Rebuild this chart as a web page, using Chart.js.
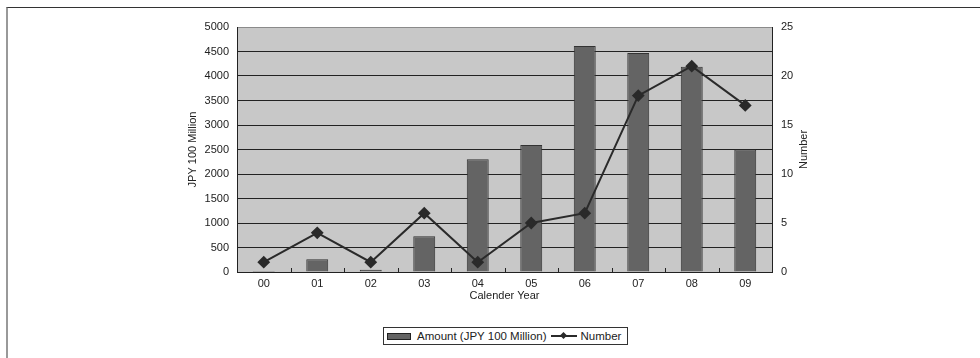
<!DOCTYPE html>
<html>
<head>
<meta charset="utf-8">
<script src="https://cdn.jsdelivr.net/npm/chart.js@4/dist/chart.umd.min.js"></script>
<style>
  html, body { margin: 0; padding: 0; background: #fff; }
  #wrap { position: relative; width: 980px; height: 358px; overflow: hidden; }
  #frame { position: absolute; left: 6px; top: 7px; width: 1000px; height: 400px;
           border-top: 1px solid #333; border-left: 2px solid #999; }
  canvas { position: absolute; left: 0; top: 0; }
  #legend { position: absolute; left: 383px; top: 327px; height: 16px; padding: 0 6px 0 3px;
            border: 1px solid #333; background: #fff; font: 11.5px "Liberation Sans", Arial, sans-serif;
            color: #222; display: flex; align-items: center; white-space: nowrap; }
  .sw-bar { display: inline-block; width: 22px; height: 5px; background: #646464; border: 1px solid #222; margin-right: 6px; }
  .sw-line { position: relative; display: inline-block; width: 26px; height: 8px; margin: 0 4px 0 4px; }
  .sw-line::before { content: ""; position: absolute; left: 0; right: 0; top: 3px; height: 2px; background: #2a2a2a; }
  .sw-line::after { content: ""; position: absolute; left: 10px; top: 1px; width: 5px; height: 5px; background: #2a2a2a; transform: rotate(45deg); }
</style>
</head>
<body>
<div id="wrap">
  <div id="frame"></div>
  <canvas id="c" width="980" height="358"></canvas>
  <div id="legend"><span class="sw-bar"></span>Amount (JPY 100 Million)<span class="sw-line"></span>Number</div>
</div>
<script>
// Calendar years (two-digit labels)
const years = ['00', '01', '02', '03', '04', '05', '06', '07', '08', '09'];
// Deal amount per year, JPY 100 million
const amounts = [20, 260, 45, 730, 2300, 2590, 4610, 4470, 4190, 2500];
// Number of deals per year
const counts = [1, 4, 1, 6, 1, 5, 6, 18, 21, 17];

const FONT = { family: '"Liberation Sans", Arial, sans-serif', size: 11 };
const INK = '#222';

// Gray plot background, inner category tick marks and the right-hand axis title
const plotDecor = {
  id: 'plotDecor',
  beforeDraw(chart) {
    const { ctx, chartArea: a } = chart;
    ctx.save();
    ctx.fillStyle = '#c8c8c8';
    ctx.fillRect(a.left, a.top, a.right - a.left, a.bottom - a.top);
    ctx.restore();
  },
  afterDatasetsDraw(chart) {
    const { ctx, chartArea: a, scales } = chart;
    const x = scales.x;
    ctx.save();
    ctx.strokeStyle = INK;
    ctx.lineWidth = 1;
    for (let i = 1; i < years.length; i++) {
      const px = Math.round((x.getPixelForValue(i - 1) + x.getPixelForValue(i)) / 2) + 0.5;
      ctx.beginPath();
      ctx.moveTo(px, a.bottom);
      ctx.lineTo(px, a.bottom - 4);
      ctx.stroke();
    }
    ctx.restore();
  },
  afterDraw(chart) {
    const { ctx, chartArea: a } = chart;
    ctx.save();
    ctx.fillStyle = INK;
    ctx.font = `${FONT.size}px ${FONT.family}`;
    ctx.textAlign = 'center';
    ctx.textBaseline = 'middle';
    ctx.translate(804, (a.top + a.bottom) / 2);
    ctx.rotate(-Math.PI / 2);
    ctx.fillText('Number', 0, 0);
    ctx.restore();
  }
};

new Chart(document.getElementById('c'), {
  data: {
    labels: years,
    datasets: [
      {
        type: 'line',
        label: 'Number',
        data: counts,
        yAxisID: 'y1',
        borderColor: '#2a2a2a',
        backgroundColor: '#2a2a2a',
        borderWidth: 2,
        pointStyle: 'rectRot',
        pointRadius: 5,
        pointHoverRadius: 5,
        tension: 0,
        order: 0
      },
      {
        type: 'bar',
        label: 'Amount (JPY 100 Million)',
        data: amounts,
        yAxisID: 'y',
        backgroundColor: '#646464',
        borderColor: '#333',
        borderWidth: 1,
        categoryPercentage: 1,
        barPercentage: 0.41,
        order: 1
      }
    ]
  },
  options: {
    responsive: false,
    animation: false,
    events: [],
    layout: { padding: { left: 180, right: 150, top: 27, bottom: 52 } },
    plugins: { legend: { display: false }, tooltip: { enabled: false } },
    scales: {
      x: {
        offset: true,
        grid: { display: false, drawTicks: false },
        border: { display: true, color: INK, width: 1 },
        ticks: { color: INK, font: FONT, padding: 5 },
        title: { display: true, text: 'Calender Year', color: INK, font: FONT, padding: { top: 0, bottom: 3 } },
        afterFit(s) { s.height = 34; }
      },
      y: {
        position: 'left',
        min: 0, max: 5000,
        ticks: { stepSize: 500, color: INK, font: FONT, padding: 8, callback: (v) => String(v) },
        grid: {
          drawTicks: false,
          color: (c) => (c.tick && c.tick.value === 5000 ? '#8a8a8a' : INK),
          lineWidth: 1
        },
        border: { display: true, color: INK, width: 1 },
        title: { display: true, text: 'JPY 100 Million', color: INK, font: FONT, padding: { top: 6, bottom: 0 } },
        afterFit(s) { s.width = 57; }
      },
      y1: {
        position: 'right',
        min: 0, max: 25,
        ticks: { stepSize: 5, color: INK, font: FONT, padding: 9 },
        grid: { display: false, drawTicks: false },
        border: { display: true, color: INK, width: 1 },
        afterFit(s) { s.width = 58; }
      }
    }
  },
  plugins: [plotDecor]
});
</script>
</body>
</html>
